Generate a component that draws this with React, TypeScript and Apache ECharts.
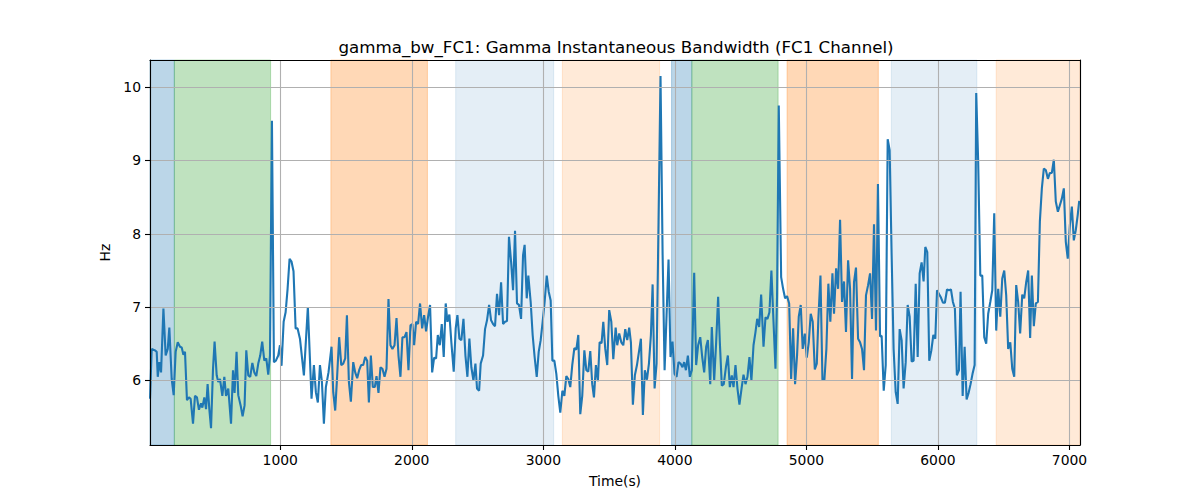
import React, { useEffect, useRef } from "react";
import * as echarts from "echarts";

const TITLE = "gamma_bw_FC1: Gamma Instantaneous Bandwidth (FC1 Channel)";
const X_NAME = "Time(s)";
const Y_NAME = "Hz";
const X_MIN = 10;
const X_MAX = 7080;
const Y_MIN = 5.12;
const Y_MAX = 10.37;

// [time (s), bandwidth (Hz)]
const seg1: [number, number][] = [
  [10, 5.75], [23, 6.43], [48, 6.41], [61, 6.39], [69, 6.05], [81, 6.25], [94, 6.11], [112, 6.98], [129, 6.34], [145, 6.43],
  [157, 6.72], [175, 6.02], [190, 5.8], [205, 6.39], [221, 6.52], [238, 6.46], [251, 6.45], [264, 6.35], [276, 6.39], [291, 5.73],
  [306, 5.77], [319, 5.75], [337, 5.41], [352, 5.79], [367, 5.77], [382, 5.6], [398, 5.69], [408, 5.63], [423, 5.77], [436, 5.61],
  [448, 5.95], [461, 5.61], [474, 5.35], [489, 6.16], [501, 6.53], [517, 6.07], [529, 5.98], [542, 6.02], [560, 5.79], [575, 6.05],
  [588, 5.79], [605, 5.89], [626, 5.41], [641, 6.14], [653, 5.83], [668, 6.39], [681, 5.8], [699, 5.66], [714, 5.51], [729, 5.66],
  [742, 6.41], [757, 6.07], [772, 6.05], [788, 6.24], [803, 6.11], [818, 6.06], [833, 6.23], [848, 6.34], [863, 6.53], [879, 6.27],
  [894, 6.3], [909, 6.08], [922, 6.34], [937, 9.54], [952, 6.25], [967, 6.27], [985, 6.34], [998, 6.48], [1010, 6.2], [1026, 6.8],
  [1041, 6.93], [1056, 7.25], [1071, 7.66], [1086, 7.62], [1101, 7.49], [1117, 6.71], [1132, 6.71],
];
const seg2: [number, number][] = [
  [1150, 6.57], [1180, 6.07], [1210, 7.0], [1238, 5.75], [1256, 6.21], [1271, 5.84], [1286, 5.7], [1302, 6.21], [1317, 5.98], [1332, 5.41],
  [1347, 5.91], [1367, 6.11], [1390, 6.46], [1403, 5.84], [1418, 5.59], [1433, 6.07], [1448, 6.59], [1464, 6.21], [1479, 6.23], [1494, 6.3],
  [1507, 6.89], [1522, 5.98], [1537, 5.71], [1555, 6.25], [1570, 6.11], [1585, 6.03], [1600, 6.14], [1615, 6.21], [1631, 6.21], [1646, 6.32],
  [1661, 6.27], [1674, 5.7], [1689, 6.34], [1704, 5.91], [1719, 5.91], [1732, 6.06], [1747, 5.83], [1762, 6.18], [1777, 6.16], [1793, 6.05],
  [1808, 6.16], [1823, 7.11], [1838, 6.48], [1853, 6.43], [1869, 6.48], [1884, 6.85], [1899, 6.34], [1914, 6.05], [1929, 6.59], [1945, 6.59],
  [1960, 6.66], [1975, 6.14], [1990, 6.75], [2005, 6.77], [2018, 6.48], [2033, 6.8], [2048, 6.77], [2063, 7.05], [2079, 6.71], [2094, 6.89],
  [2109, 6.67], [2124, 6.87], [2139, 7.03], [2155, 6.11], [2170, 6.31], [2185, 6.3], [2198, 6.62], [2213, 6.48], [2228, 6.77], [2243, 6.32],
  [2258, 7.05], [2271, 6.8], [2286, 6.9], [2301, 6.52], [2319, 6.12], [2334, 6.71],
];
const seg3: [number, number][] = [
  [2347, 6.89], [2362, 6.57], [2377, 6.55], [2393, 6.84], [2408, 6.34], [2423, 6.05], [2438, 6.57], [2453, 6.18], [2469, 6.0], [2484, 6.23],
  [2496, 5.89], [2512, 5.86], [2524, 6.23], [2542, 6.34], [2557, 6.7], [2572, 6.82], [2588, 7.03], [2603, 6.82], [2618, 6.77], [2633, 6.74],
  [2648, 7.18], [2664, 6.89], [2679, 7.34], [2694, 6.77], [2709, 6.8], [2724, 6.81], [2739, 7.96], [2755, 7.62], [2770, 7.23], [2785, 8.04],
  [2800, 7.05], [2815, 7.03], [2831, 6.84], [2846, 7.71], [2858, 7.85], [2874, 7.12], [2886, 7.43], [2904, 7.07], [2919, 6.62], [2934, 6.32],
  [2950, 6.05], [2965, 6.39], [2980, 6.55], [2995, 6.8], [3010, 7.07], [3026, 7.43], [3041, 7.21], [3056, 7.09], [3069, 6.27], [3084, 6.27],
  [3099, 6.09], [3114, 5.79], [3129, 5.56], [3145, 5.86], [3160, 5.79], [3175, 6.06], [3190, 6.02], [3205, 5.91], [3220, 6.21], [3236, 6.44],
  [3251, 6.42], [3266, 6.62], [3281, 5.54], [3296, 5.79], [3312, 6.41], [3327, 6.14], [3342, 6.12], [3357, 6.4], [3372, 5.95], [3385, 5.77],
  [3400, 6.21], [3415, 5.99], [3428, 6.52], [3443, 6.51], [3456, 6.8], [3471, 6.43], [3486, 6.21], [3501, 6.96], [3517, 6.8], [3532, 6.29],
];
const seg4: [number, number][] = [
  [3550, 6.72], [3562, 6.48], [3577, 6.64], [3593, 6.52], [3608, 6.48], [3623, 6.7], [3638, 6.55], [3653, 6.72], [3666, 6.52], [3681, 5.67],
  [3696, 6.07], [3712, 6.21], [3727, 6.39], [3742, 6.57], [3757, 5.53], [3772, 6.14], [3788, 6.01], [3803, 6.23], [3818, 6.62], [3831, 7.31],
  [3846, 5.89], [3861, 6.23], [3876, 8.16], [3891, 10.15], [3907, 7.71], [3922, 6.14], [3937, 6.89], [3952, 7.65], [3967, 6.32], [3982, 6.53],
  [3998, 6.09], [4013, 6.05], [4028, 6.25], [4043, 6.23], [4058, 6.18], [4071, 6.25], [4084, 6.14], [4099, 6.34], [4114, 6.05], [4129, 6.14],
  [4147, 7.47], [4162, 6.21], [4177, 6.48], [4193, 6.59], [4208, 6.32], [4223, 6.11], [4238, 6.46], [4251, 6.55], [4269, 5.95], [4281, 6.73],
  [4299, 6.0], [4314, 6.52], [4329, 7.14], [4342, 6.52], [4357, 5.93], [4372, 5.95], [4388, 6.18], [4403, 6.34], [4418, 5.91], [4433, 6.07],
  [4446, 5.91], [4461, 6.21], [4476, 5.89], [4491, 5.67], [4507, 5.89], [4522, 6.08], [4537, 5.95], [4552, 6.05], [4567, 6.32], [4582, 6.0],
  [4598, 6.48], [4613, 6.66], [4626, 6.84], [4641, 6.73], [4656, 7.17], [4674, 6.46], [4689, 6.86], [4704, 6.84],
];
const seg5: [number, number][] = [
  [4719, 6.93], [4734, 7.5], [4750, 6.8], [4765, 6.16], [4777, 7.16], [4790, 9.75], [4808, 7.41], [4823, 7.25], [4838, 7.12], [4853, 7.15],
  [4869, 7.05], [4884, 6.02], [4899, 6.71], [4914, 5.95], [4929, 6.34], [4942, 6.87], [4957, 7.03], [4972, 6.43], [4988, 6.64], [5003, 6.31],
  [5018, 6.52], [5033, 6.91], [5048, 6.8], [5064, 6.15], [5079, 6.23], [5091, 6.84], [5107, 7.43], [5122, 6.01], [5137, 6.01], [5152, 6.43],
  [5167, 7.32], [5182, 6.8], [5198, 7.46], [5210, 6.91], [5226, 7.53], [5241, 7.25], [5256, 8.19], [5271, 7.07], [5286, 7.35], [5301, 6.66],
  [5317, 7.64], [5332, 7.25], [5347, 6.02], [5362, 7.34], [5377, 7.54], [5393, 6.57], [5408, 6.52], [5423, 6.43], [5438, 6.14], [5453, 7.16],
  [5469, 7.3], [5484, 7.46], [5499, 6.84], [5514, 8.13], [5529, 6.68], [5544, 8.68], [5560, 6.6], [5572, 6.61], [5588, 5.86], [5603, 6.21],
  [5618, 9.29], [5633, 9.14], [5648, 7.71], [5663, 6.43], [5679, 5.84], [5694, 5.68], [5709, 6.7], [5724, 6.55], [5739, 5.89], [5755, 6.25],
  [5770, 7.03], [5785, 6.87], [5800, 6.26], [5815, 6.27], [5831, 7.32], [5846, 6.32], [5861, 7.46], [5876, 7.61], [5891, 7.35],
];
const seg6: [number, number][] = [
  [5904, 7.82], [5919, 7.75], [5934, 6.27], [5950, 6.41], [5965, 6.62], [5980, 6.57], [5993, 7.23], [6008, 7.18], [6023, 7.13], [6038, 7.06],
  [6053, 7.06], [6069, 7.24], [6084, 7.23], [6099, 7.24], [6114, 7.07], [6129, 6.98], [6144, 6.07], [6160, 6.14], [6172, 7.21], [6188, 5.79],
  [6203, 6.46], [6218, 5.74], [6233, 5.83], [6248, 5.95], [6263, 6.09], [6279, 6.21], [6291, 9.92], [6306, 8.98], [6322, 7.43], [6337, 7.43],
  [6352, 6.59], [6367, 6.5], [6382, 6.91], [6398, 7.07], [6413, 7.23], [6428, 8.28], [6443, 6.68], [6458, 7.25], [6474, 6.87], [6489, 7.39],
  [6504, 7.5], [6519, 7.16], [6534, 6.43], [6550, 6.52], [6565, 6.16], [6580, 6.05], [6595, 7.3], [6610, 7.07], [6625, 6.64], [6641, 7.17],
  [6656, 7.12], [6671, 7.34], [6686, 7.5], [6701, 6.58], [6714, 7.43], [6729, 6.74], [6744, 7.05], [6760, 7.07], [6775, 8.17], [6790, 8.62],
  [6805, 8.89], [6820, 8.87], [6836, 8.75], [6851, 8.83], [6866, 8.83], [6881, 9.01], [6896, 8.44], [6912, 8.3], [6927, 8.39], [6942, 8.48],
  [6957, 8.62], [6972, 7.89], [6987, 7.66], [7003, 8.12], [7018, 8.37], [7033, 7.91], [7048, 8.05], [7063, 8.26], [7074, 8.45],
];

// shaded spans: start, end, colour kind
const spanStarts = [10, 195, 1385, 2334, 3145, 3975, 4129, 4853, 5646, 6443];
const spanEnds = [195, 927, 2119, 3079, 3884, 4129, 4785, 5547, 6296, 7080];
const spanKinds = ["blue", "green", "orange", "lightblue", "lightorange", "blue", "green", "orange", "lightblue", "lightorange"];
const spanColors: Record<string, string> = {
  blue: "rgba(31,119,180,0.3)",
  green: "rgba(44,160,44,0.3)",
  orange: "rgba(255,127,14,0.3)",
  lightblue: "rgba(31,119,180,0.12)",
  lightorange: "rgba(255,127,14,0.16)",
};

const FONT = "DejaVu Sans";

export default function App() {
  const ref = useRef<HTMLDivElement>(null);
  useEffect(() => {
    document.body.style.margin = "0";
    if (!ref.current) return;
    const chart = echarts.init(ref.current, null, { renderer: "svg" });
    const data = [...seg1, ...seg2, ...seg3, ...seg4, ...seg5, ...seg6];
    const areas = spanStarts.map((s, i) => [
      {
        xAxis: s,
        itemStyle: {
          color: spanColors[spanKinds[i]],
          borderColor: spanColors[spanKinds[i]],
          borderWidth: 1,
        },
      },
      { xAxis: spanEnds[i] },
    ]);
    const labelStyle = { fontSize: 13.9, fontFamily: FONT, color: "#000" };
    const tick = { show: true, inside: false, length: 5, lineStyle: { color: "#000", width: 1.1 } };
    const split = { show: true, lineStyle: { color: "#b0b0b0", width: 1.1 } };
    const border = { show: true, onZero: false, lineStyle: { color: "#000", width: 1.1 } };
    chart.setOption({
      animation: false,
      title: {
        text: TITLE,
        left: 611,
        top: 33,
        textAlign: "center",
        textStyle: { fontSize: 16.7, fontWeight: "normal", fontFamily: FONT, color: "#000" },
      },
      grid: {
        left: 150,
        right: 120,
        top: 60,
        bottom: 55,
        show: false,
      },
      xAxis: [
        {
          type: "value",
          position: "bottom",
          min: X_MIN,
          max: X_MAX,
          splitNumber: 7,
          z: 10,
          name: X_NAME,
          nameLocation: "middle",
          nameGap: 29,
          nameTextStyle: labelStyle,
          axisLine: border,
          axisTick: tick,
          axisLabel: {
            showMinLabel: false,
            showMaxLabel: false,
            margin: 8,
            formatter: (v: number) => String(v),
            ...labelStyle,
          },
          splitLine: split,
        },
        {
          type: "value",
          position: "top",
          min: X_MIN,
          max: X_MAX,
          z: 10,
          axisLine: border,
          axisTick: { show: false },
          axisLabel: { show: false },
          splitLine: { show: false },
        },
      ],
      yAxis: [
        {
          type: "value",
          position: "left",
          min: Y_MIN,
          max: Y_MAX,
          splitNumber: 5,
          z: 10,
          name: Y_NAME,
          nameLocation: "middle",
          nameGap: 26,
          nameTextStyle: labelStyle,
          axisLine: border,
          axisTick: tick,
          axisLabel: {
            showMinLabel: false,
            showMaxLabel: false,
            margin: 9,
            ...labelStyle,
          },
          splitLine: split,
        },
        {
          type: "value",
          position: "right",
          min: Y_MIN,
          max: Y_MAX,
          z: 10,
          axisLine: border,
          axisTick: { show: false },
          axisLabel: { show: false },
          splitLine: { show: false },
        },
      ],
      series: [
        {
          type: "line",
          xAxisIndex: 0,
          yAxisIndex: 0,
          data,
          showSymbol: false,
          symbol: "none",
          lineStyle: { color: "#1f77b4", width: 2.1 },
          itemStyle: { color: "#1f77b4" },
          clip: true,
          z: 3,
          markArea: { silent: true, data: areas },
        },
      ],
    });
    return () => chart.dispose();
  }, []);
  return <div ref={ref} style={{ width: 1200, height: 500 }} />;
}
